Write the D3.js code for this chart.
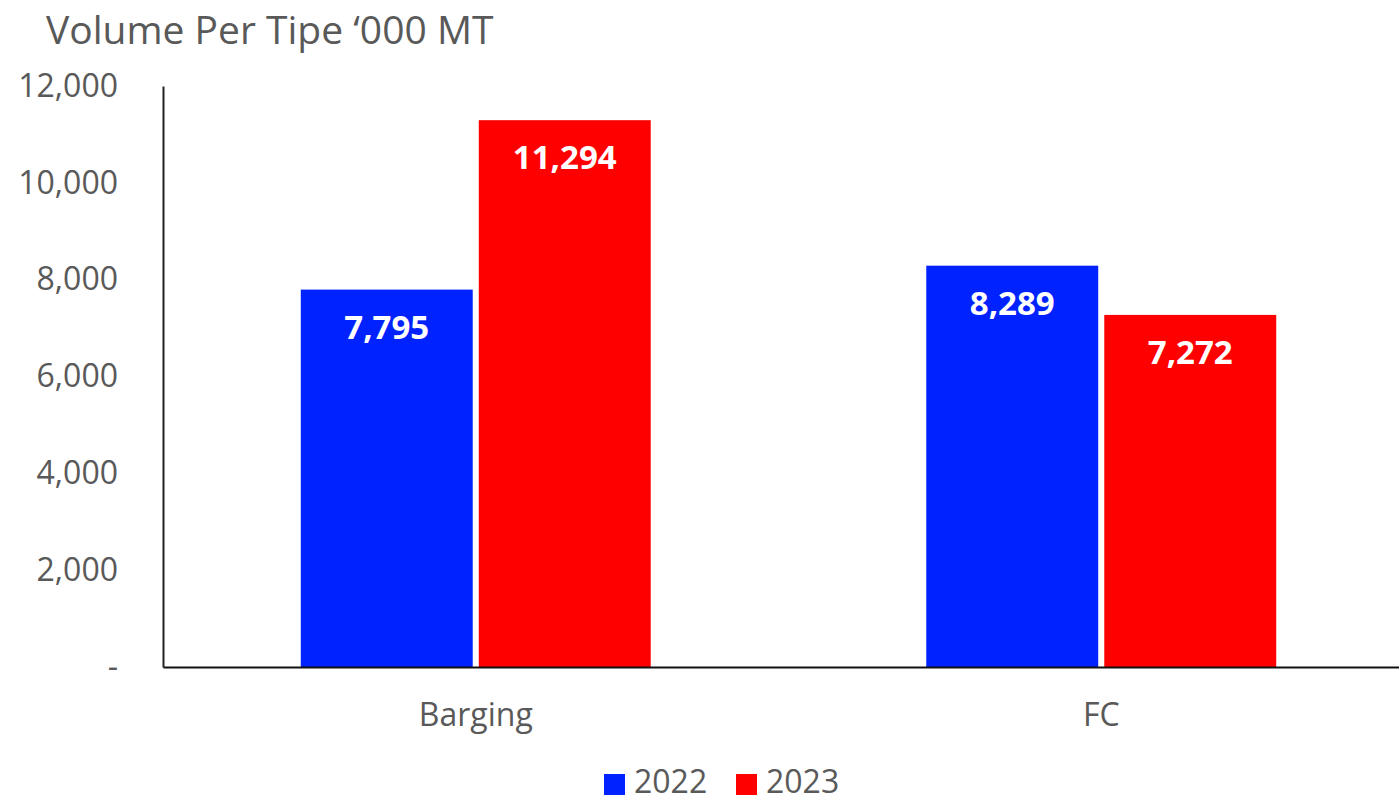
<!DOCTYPE html>
<html>
<head>
<meta charset="utf-8">
<script src="https://cdn.jsdelivr.net/npm/d3@7"></script>
<style>
  body { margin: 0; background: #fff; }
  svg { display: block; font-family: "Open Sans", sans-serif; }
</style>
</head>
<body>
<div id="chart"></div>
<script>
// data
var categories = ["Barging", "FC"];
var series = ["2022", "2023"];
var values2022 = [7795, 8289];
var values2023 = [11294, 7272];
var yTicks = [0, 2000, 4000, 6000, 8000, 10000, 12000];
var colors = {"2022": "#0022ff", "2023": "#ff0000"};

var width = 1399, height = 802;
var margin = {top: 86, right: -15, bottom: 135, left: 163};

var svg = d3.select("#chart").append("svg")
    .attr("width", width)
    .attr("height", height);

// scales
var x0 = d3.scaleBand()
    .domain(categories)
    .range([margin.left, width - margin.right]);

var x1 = d3.scaleBand()
    .domain(series)
    .range([0, x0.bandwidth()])
    .paddingInner(0.034)
    .paddingOuter(0.774);

var y = d3.scaleLinear()
    .domain([0, 12000])
    .range([height - margin.bottom, margin.top]);

var textColor = "#595959";

// title
svg.append("text")
    .attr("x", 46)
    .attr("y", 44)
    .attr("fill", textColor)
    .style("font-size", "39px")
    .text("Volume Per Tipe \u2018000 MT");

// bars
var rows = categories.map(function(c, i) {
    return {cat: c, vals: [{s: "2022", v: values2022[i]}, {s: "2023", v: values2023[i]}]};
});

var groups = svg.selectAll(".grp")
    .data(rows)
    .enter().append("g")
    .attr("class", "grp")
    .attr("transform", function(d) { return "translate(" + x0(d.cat) + ",0)"; });

groups.selectAll("rect")
    .data(function(d) { return d.vals; })
    .enter().append("rect")
    .attr("x", function(d) { return x1(d.s); })
    .attr("y", function(d) { return y(d.v); })
    .attr("width", x1.bandwidth())
    .attr("height", function(d) { return y(0) - y(d.v); })
    .attr("fill", function(d) { return colors[d.s]; });

// data labels inside top of bars
groups.selectAll(".lbl")
    .data(function(d) { return d.vals; })
    .enter().append("text")
    .attr("class", "lbl")
    .attr("x", function(d) { return x1(d.s) + x1.bandwidth() / 2; })
    .attr("y", function(d) { return y(d.v) + 49; })
    .attr("text-anchor", "middle")
    .attr("fill", "#fff")
    .style("font-size", "33px")
    .style("font-weight", "bold")
    .text(function(d) { return d3.format(",")(d.v); });

// y axis
var yAxis = d3.axisLeft(y)
    .tickValues(yTicks)
    .tickSize(0)
    .tickPadding(45)
    .tickFormat(function(d) { return d === 0 ? "-" : d3.format(",")(d); });

var yg = svg.append("g")
    .attr("transform", "translate(" + margin.left + ",0)")
    .call(yAxis);
yg.select(".domain").attr("stroke", "#222").attr("stroke-width", 2);
yg.selectAll("text")
    .attr("fill", textColor)
    .style("font-size", "32px")
    .style("font-family", "Open Sans, sans-serif");

// x axis
var xg = svg.append("g")
    .attr("transform", "translate(0," + y(0) + ")")
    .call(d3.axisBottom(x0).tickSize(0).tickPadding(36).tickSizeOuter(0));
xg.select(".domain").attr("stroke", "#111").attr("stroke-width", 2);
xg.selectAll("text")
    .attr("fill", textColor)
    .style("font-size", "32px")
    .style("font-family", "Open Sans, sans-serif");

// legend
var legendX = [604, 736];
var legend = svg.selectAll(".legend")
    .data(series)
    .enter().append("g")
    .attr("class", "legend")
    .attr("transform", function(d, i) { return "translate(" + legendX[i] + ",774)"; });

legend.append("rect")
    .attr("width", 21)
    .attr("height", 21)
    .attr("fill", function(d) { return colors[d]; });

legend.append("text")
    .attr("x", 30)
    .attr("y", 19)
    .attr("fill", textColor)
    .style("font-size", "32px")
    .text(function(d) { return d; });
</script>
</body>
</html>
